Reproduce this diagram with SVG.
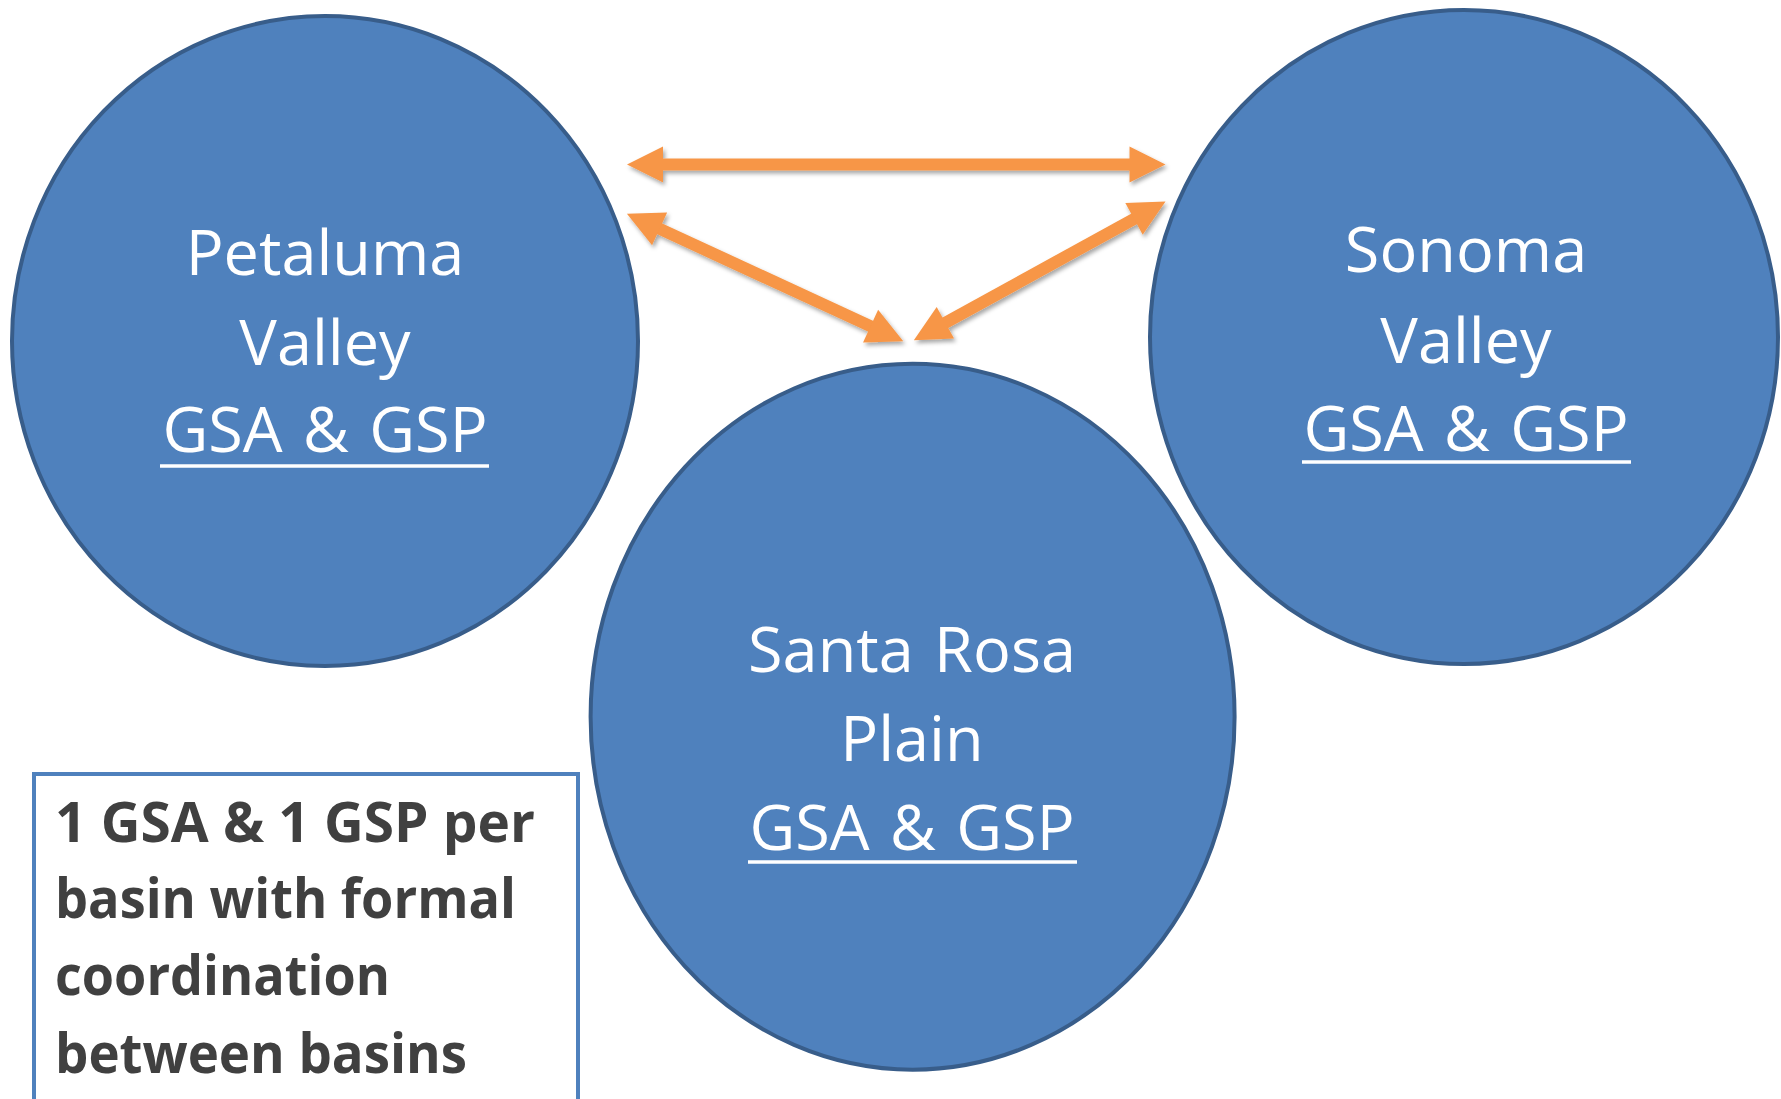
<svg xmlns="http://www.w3.org/2000/svg" width="1781" height="1099" viewBox="0 0 1781 1099">
<style>
.basin{fill:#4F81BD;stroke:#385D8A;stroke-width:4}
.lbl{font-family:"Open Sans","Liberation Sans",sans-serif;font-size:63px;fill:#FFFFFF;text-anchor:middle;word-spacing:4px}
.ul{stroke:#FFFFFF;stroke-width:3.5}
.conn{stroke:#F79646;stroke-width:12;fill:none;marker-start:url(#head);marker-end:url(#head)}
.note{font-family:"Open Sans","Liberation Sans",sans-serif;font-weight:bold;font-size:55px;fill:#404040}
</style>
<defs>
<marker id="head" markerUnits="userSpaceOnUse" markerWidth="42" markerHeight="40" viewBox="-2 -20 40 40" refX="1" refY="0" orient="auto-start-reverse">
<path d="M0,-18 L36,0 L0,18 Z" fill="#F79646"/>
</marker>
<filter id="sh" x="-10%" y="-30%" width="120%" height="160%">
<feDropShadow dx="2" dy="3" stdDeviation="2" flood-color="#000" flood-opacity="0.35"/>
</filter>
</defs>
<rect width="1781" height="1099" fill="#FFFFFF"/>
<g id="petaluma">
<ellipse class="basin" cx="325" cy="341" rx="313" ry="325"/>
<text class="lbl" x="325" y="275">Petaluma</text>
<text class="lbl" x="325" y="365">Valley</text>
<text class="lbl" x="325" y="452">GSA &amp; GSP</text>
<line class="ul" x1="160" y1="466" x2="489" y2="466"/>
</g>
<g id="sonoma">
<ellipse class="basin" cx="1464" cy="337" rx="314" ry="327"/>
<text class="lbl" x="1466" y="272">Sonoma</text>
<text class="lbl" x="1466" y="363">Valley</text>
<text class="lbl" x="1466" y="451">GSA &amp; GSP</text>
<line class="ul" x1="1302" y1="462" x2="1631" y2="462"/>
</g>
<g id="santa-rosa">
<ellipse class="basin" cx="912.6" cy="716.7" rx="322" ry="353"/>
<text class="lbl" x="912" y="672">Santa Rosa</text>
<text class="lbl" x="912" y="761">Plain</text>
<text class="lbl" x="912" y="850">GSA &amp; GSP</text>
<line class="ul" x1="748" y1="862" x2="1077" y2="862"/>
</g>
<g id="connectors" filter="url(#sh)">
<line class="conn" x1="662" y1="164.5" x2="1130.5" y2="164.5"/>
<line class="conn" x1="658.7" y1="228.4" x2="871.5" y2="326.6"/>
<line class="conn" x1="1134.9" y1="218.4" x2="944.5" y2="323.3"/>
</g>
<g id="note">
<rect x="34" y="774" width="544" height="340" fill="#FFFFFF" stroke="#4F81BD" stroke-width="4"/>
<text class="note" x="55" y="842" textLength="480" lengthAdjust="spacingAndGlyphs">1 GSA &amp; 1 GSP per</text>
<text class="note" x="55" y="918" textLength="461" lengthAdjust="spacingAndGlyphs">basin with formal</text>
<text class="note" x="55" y="995" textLength="335" lengthAdjust="spacingAndGlyphs">coordination</text>
<text class="note" x="55" y="1073" textLength="412" lengthAdjust="spacingAndGlyphs">between basins</text>
</g>
</svg>
